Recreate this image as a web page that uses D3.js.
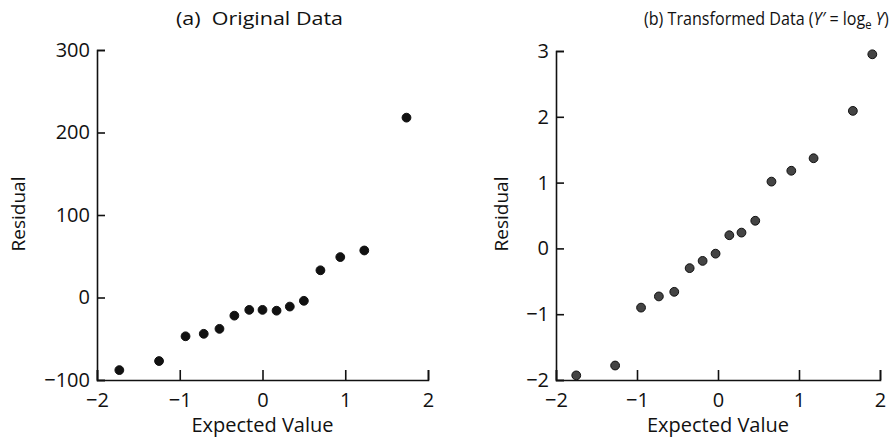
<!DOCTYPE html>
<html>
<head>
<meta charset="utf-8">
<script src="https://cdn.jsdelivr.net/npm/d3@7"></script>
<style>
  body { margin: 0; background: #fff; }
  text { font-family: "Open Sans", "DejaVu Sans", sans-serif; fill: #111; }
</style>
</head>
<body>
<div id="chart"></div>
<script>
// data
let expectedA = [-1.73, -1.25, -0.93, -0.71, -0.52, -0.34, -0.16, 0.0, 0.17, 0.33, 0.50, 0.70, 0.94, 1.23, 1.74];
let residualA = [-88, -77, -47, -44, -38, -22, -15, -15, -16, -11, -4, 33, 49, 57, 218];

let expectedB = [-1.75, -1.27, -0.95, -0.73, -0.54, -0.35, -0.19, -0.03, 0.14, 0.29, 0.46, 0.66, 0.905, 1.18, 1.665, 1.905];
let residualB = [-1.93, -1.78, -0.90, -0.73, -0.66, -0.30, -0.19, -0.08, 0.20, 0.24, 0.42, 1.015, 1.18, 1.37, 2.09, 2.95];

let xTicks = [-2, -1, 0, 1, 2];
let yTicksA = [-100, 0, 100, 200, 300];
let yTicksB = [-2, -1, 0, 1, 2, 3];

let svg = d3.select("#chart")
  .append("svg")
  .attr("width", 891)
  .attr("height", 437)

let fmt = d3.format("d")

function drawPanel(opts) {
  let g = svg.append("g")

  let x = d3.scaleLinear()
    .domain([-2, 2])
    .range([opts.left, opts.right]);
  let y = d3.scaleLinear()
    .domain(opts.yDomain)
    .range([380, opts.top]);

  // x axis, ticks pointing inward
  let xa = g.append("g")
    .attr("transform", `translate(0, 380)`)
    .call(d3.axisBottom(x).tickValues(xTicks).tickFormat(fmt).tickSizeInner(-10).tickSizeOuter(-10).tickPadding(13))
  xa.selectAll("text").attr("font-size", "20px").attr("dy", "0.71em")

  let ya = g.append("g")
    .attr("transform", `translate(${opts.left}, 0)`)
    .call(d3.axisLeft(y).tickValues(opts.yTicks).tickFormat(fmt).tickSizeInner(-8).tickSizeOuter(-8).tickPadding(7))
  ya.selectAll("text").attr("font-size", "20px")

  g.selectAll(".domain, .tick line").attr("stroke", "#111").attr("stroke-width", 1.6)

  // dots
  g.append("g")
    .selectAll("circle")
    .data(opts.xs.map((d, i) => ({x: d, y: opts.ys[i]})))
    .enter()
    .append("circle")
      .attr("cx", d => x(d.x))
      .attr("cy", d => y(d.y))
      .attr("r", 4.4)
      .style("fill", opts.fill)
      .attr("stroke", "#111")
      .attr("stroke-width", 1)

  g.append("text")
    .attr("x", x(0))
    .attr("y", 432)
    .attr("text-anchor", "middle")
    .attr("font-size", "20px")
    .text("Expected Value")

  g.append("text")
    .attr("transform", `translate(${opts.labelX}, 214) rotate(-90)`)
    .attr("text-anchor", "middle")
    .attr("font-size", "19px")
    .text("Residual")

  return g
}

drawPanel({left: 97, right: 428, top: 50, yDomain: [-100, 300], yTicks: yTicksA,
  xs: expectedA, ys: residualA, fill: "#111", labelX: 25})

drawPanel({left: 556, right: 880, top: 51, yDomain: [-2, 3], yTicks: yTicksB,
  xs: expectedB, ys: residualB, fill: "#444", labelX: 508})

// titles
svg.append("text")
  .attr("x", 176)
  .attr("y", 25)
  .attr("font-size", "18px")
  .attr("xml:space", "preserve")
  .attr("textLength", 167)
  .attr("lengthAdjust", "spacingAndGlyphs")
  .text("(a)  Original Data")

let tb = svg.append("text")
  .attr("font-size", "18px")
tb.append("tspan").text("(b) Transformed Data (")
tb.append("tspan").attr("font-style", "italic").text("Y′")
tb.append("tspan").text(" = log")
tb.append("tspan").attr("font-size", "0.7em").attr("dy", 4).text("e")
tb.append("tspan").attr("dy", -4).attr("font-style", "italic").text(" Y")
tb.append("tspan").text(")")

// squeeze the second title horizontally so it spans the same width as in the figure
let wb = tb.node().getBBox().width
tb.attr("transform", `translate(644, 25) scale(${(245 / wb).toFixed(3)}, 1)`)
</script>
</body>
</html>
